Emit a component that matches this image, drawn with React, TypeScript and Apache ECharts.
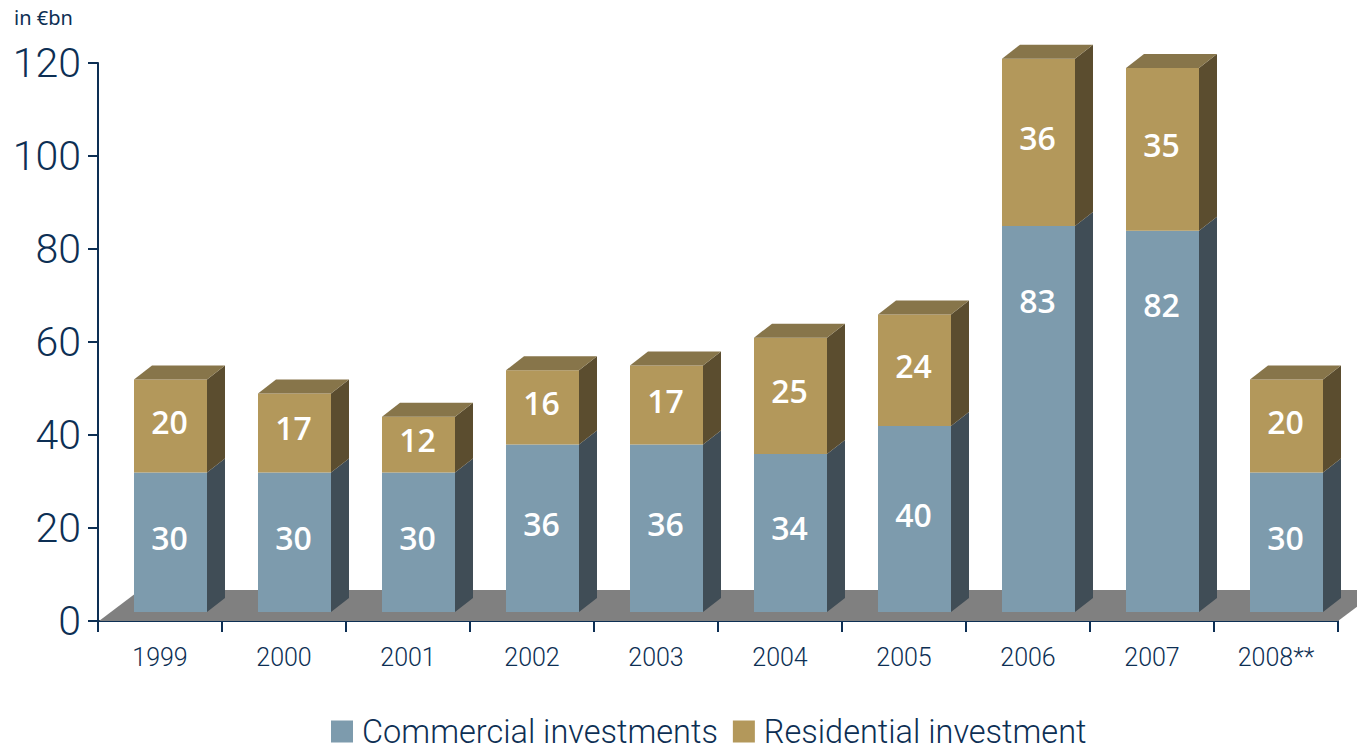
import React, { useEffect, useRef } from "react";
import * as echarts from "echarts";

const years = ["1999", "2000", "2001", "2002", "2003", "2004", "2005", "2006", "2007", "2008**"];
const commercial = [30, 30, 30, 36, 36, 34, 40, 83, 82, 30];
const residential = [20, 17, 12, 16, 17, 25, 24, 36, 35, 20];
const yTicksMax = 120;

const NAVY = "#0d2f54";
const FONT = "Roboto, sans-serif";
const LIFT = 9;
const DX = 18;
const DY = 14;
const BAR_W = 73;
const SHIFT = 10.5;

function barRenderer(front: string, side: string, top: string | null) {
  return (params: any, api: any) => {
    const cat = api.value(0);
    const base = api.value(1);
    const val = api.value(2);
    const c0 = api.coord([cat, base]);
    const c1 = api.coord([cat, base + val]);
    const yb = c0[1] - LIFT;
    const yt = c1[1] - LIFT;
    const xl = c0[0] + SHIFT - BAR_W / 2;
    const xr = xl + BAR_W;
    const children: any[] = [
      { type: "polygon", shape: { points: [[xr, yb], [xr + DX, yb - DY], [xr + DX, yt - DY], [xr, yt]] }, style: { fill: side } },
      { type: "rect", shape: { x: xl, y: yt, width: BAR_W, height: yb - yt }, style: { fill: front } },
    ];
    if (top) {
      children.push({
        type: "polygon",
        shape: { points: [[xl, yt], [xl + DX, yt - DY], [xr + DX, yt - DY], [xr, yt]] },
        style: { fill: top },
      });
    }
    const h = yb - yt;
    const ly = h > 300 ? yt + 74 : yt + h / 2 - 5;
    children.push({
      type: "text",
      style: {
        text: String(val),
        x: (xl + xr) / 2 - 1,
        y: ly,
        fill: "#ffffff",
        font: `600 32px 'Open Sans', sans-serif`,
        align: "center",
        verticalAlign: "middle",
      },
    });
    return { type: "group", children };
  };
}

function floorRenderer(params: any, api: any) {
  const a = api.coord([0, 0]);
  const b = api.coord([years.length - 1, 0]);
  const band = api.size([1, 0])[0];
  const xl = a[0] - band / 2 + 1;
  const xr = b[0] + band / 2;
  const y = a[1];
  return {
    type: "polygon",
    shape: { points: [[xl, y], [xl + 41, y - 31], [xr + 41, y - 31], [xr, y]] },
    style: { fill: "#808080" },
  };
}

export default function App() {
  const ref = useRef<HTMLDivElement>(null);
  useEffect(() => {
    const chart = echarts.init(ref.current!, null, { renderer: "svg" });
    const commercialData = years.map((_, i) => [i, 0, commercial[i]]);
    const residentialData = years.map((_, i) => [i, commercial[i], residential[i]]);
    chart.setOption({
      animation: false,
      grid: { left: 98, right: 19, top: 63, bottom: 127, containLabel: false },
      xAxis: {
        type: "category",
        data: years,
        axisLine: { lineStyle: { color: NAVY, width: 2 } },
        axisTick: { show: true, length: 11, lineStyle: { color: NAVY, width: 2 } },
        axisLabel: { color: NAVY, fontFamily: FONT, fontWeight: 300, fontSize: 25, margin: 24, interval: 0 },
      },
      yAxis: {
        type: "value",
        min: 0,
        max: yTicksMax,
        interval: 20,
        splitLine: { show: false },
        axisLine: { show: true, lineStyle: { color: NAVY, width: 2 } },
        axisTick: { show: true, length: 10, lineStyle: { color: NAVY, width: 2 } },
        axisLabel: { color: NAVY, fontFamily: FONT, fontWeight: 300, fontSize: 41, margin: 17 },
      },
      legend: {
        left: 331,
        top: 715,
        padding: 0,
        itemWidth: 22,
        itemHeight: 22,
        itemGap: 15,
        icon: "rect",
        data: ["Commercial investments", "Residential investment"],
        textStyle: { color: NAVY, fontFamily: FONT, fontWeight: 300, fontSize: 32.5, lineHeight: 29, padding: [0, 0, 0, 4] },
      },
      graphic: [
        {
          type: "text",
          left: 14,
          top: 7,
          style: { text: "in €bn", fill: NAVY, font: "20px 'Noto Sans', sans-serif" },
        },
      ],
      series: [
        {
          type: "custom",
          name: "floor",
          renderItem: floorRenderer,
          data: [[0, 0]],
          encode: { x: 0, y: 1 },
          clip: false,
          silent: true,
          z: 1,
        },
        {
          type: "custom",
          name: "Commercial investments",
          renderItem: barRenderer("#7d9bad", "#404d56", null),
          data: commercialData,
          encode: { x: 0, y: [1, 2] },
          itemStyle: { color: "#7d9bad" },
          clip: false,
          z: 2,
        },
        {
          type: "custom",
          name: "Residential investment",
          renderItem: barRenderer("#b3985b", "#5b4d2f", "#87754a"),
          data: residentialData,
          encode: { x: 0, y: [1, 2] },
          itemStyle: { color: "#b3985b" },
          clip: false,
          z: 3,
        },
      ],
    });
    return () => chart.dispose();
  }, []);
  return <div ref={ref} style={{ width: 1357, height: 748, position: "absolute", left: 0, top: 0 }} />;
}
